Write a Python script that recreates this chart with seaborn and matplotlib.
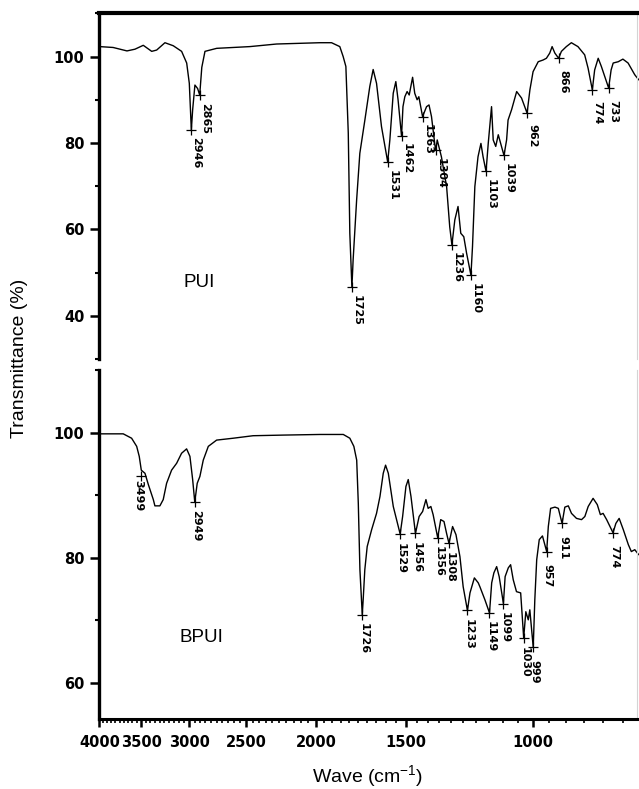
import matplotlib
matplotlib.use("Agg")
import matplotlib.pyplot as plt
import matplotlib.ticker as mticker
import seaborn as sns

# PUI spectrum: wavenumber (cm-1) and transmittance (%)
pui_wave = [4000, 3824, 3651, 3555, 3458, 3362, 3307, 3217, 3129, 3043, 2992, 2966,
            2946, 2933, 2911, 2885, 2865, 2845, 2815, 2707, 2424, 2217, 1919, 1846,
            1796, 1776, 1760, 1746, 1737, 1725, 1718, 1698, 1680, 1652, 1625, 1607,
            1589, 1563, 1531, 1520, 1503, 1490, 1479, 1462, 1455, 1446, 1435, 1425,
            1409, 1399, 1388, 1380, 1370, 1363, 1345, 1334, 1323, 1308, 1304, 1298,
            1280, 1258, 1245, 1236, 1224, 1211, 1200, 1188, 1177, 1160, 1154, 1145,
            1133, 1122, 1114, 1103, 1095, 1083, 1077, 1068, 1059, 1039, 1030, 1025,
            1013, 996, 980, 962, 953, 943, 927, 912, 902, 892, 885, 877, 866, 858,
            844, 830, 812, 794, 785, 774, 768, 759, 751, 733, 727, 722, 710, 699,
            687, 672, 663]
pui_trans = [102.3, 102.1, 101.3, 101.7, 102.6, 101.2, 101.5, 103.2, 102.5, 101.2, 98.5, 93.8,
             83.0, 87.7, 93.4, 92.6, 91.1, 97.5, 101.2, 101.9, 102.3, 102.9, 103.2, 103.2,
             102.3, 100.0, 97.7, 82.3, 59.1, 46.6, 52.9, 66.8, 77.6, 85.3, 93.1, 97.0,
             93.8, 83.8, 75.6, 80.7, 91.5, 94.2, 90.0, 81.6, 88.4, 90.7, 91.9, 91.1,
             95.2, 91.5, 90.0, 90.7, 88.0, 86.1, 88.4, 88.8, 86.1, 79.5, 78.3, 80.7,
             76.8, 69.9, 60.6, 56.4, 62.2, 65.3, 59.1, 58.3, 54.5, 49.4, 56.0, 69.9,
             76.8, 79.9, 76.8, 73.4, 79.9, 88.4, 80.7, 79.2, 81.9, 77.1, 80.7, 85.3,
             87.7, 91.9, 90.4, 86.9, 92.3, 96.5, 98.8, 99.2, 99.6, 100.8, 102.3, 100.8, 99.6, 101.2,
             102.3, 103.2, 102.3, 100.4, 97.3, 92.3, 96.9, 99.6, 97.7, 92.7, 96.9, 98.5, 98.8, 99.4,
             98.5, 95.8, 94.6]
pui_peaks = [2946, 2865, 1725, 1531, 1462, 1363, 1304, 1236, 1160, 1103, 1039, 962, 866, 774, 733]
pui_peak_t = [83.0, 91.1, 46.6, 75.6, 81.6, 86.1, 78.3, 56.4, 49.4, 73.4, 77.1, 86.9, 99.6, 92.3, 92.7]

# BPUI spectrum
bpui_wave = [4000, 3707, 3609, 3551, 3522, 3499, 3458, 3421, 3367, 3350, 3297, 3262,
             3227, 3176, 3125, 3076, 3027, 2995, 2969, 2949, 2926, 2901, 2870, 2824,
             2750, 2608, 2447, 2222, 1976, 1834, 1796, 1773, 1757, 1748, 1739, 1726,
             1721, 1712, 1699, 1675, 1649, 1631, 1614, 1602, 1588, 1563, 1529, 1517,
             1501, 1490, 1477, 1456, 1439, 1423, 1408, 1398, 1386, 1376, 1356, 1343,
             1329, 1318, 1308, 1293, 1279, 1263, 1250, 1233, 1223, 1206, 1191, 1185,
             1166, 1149, 1141, 1133, 1123, 1114, 1099, 1093, 1082, 1074, 1065, 1054,
             1040, 1034, 1030, 1023, 1015, 1010, 999, 994, 988, 980, 970, 957, 952,
             945, 932, 922, 911, 903, 893, 884, 870, 856, 847, 838, 825, 814, 806,
             799, 790, 774, 767, 759, 749, 737, 730, 722, 713]
bpui_trans = [99.8, 99.8, 99.1, 97.8, 96.2, 94.0, 93.5, 91.7, 89.3, 88.3, 88.3, 89.3,
              91.9, 94.0, 95.1, 96.7, 97.4, 96.2, 92.5, 88.9, 91.9, 93.0, 95.6, 97.8,
              98.8, 99.1, 99.5, 99.6, 99.7, 99.7, 99.1, 97.8, 95.6, 88.7, 78.1, 70.9,
              73.3, 78.1, 81.8, 84.5, 87.1, 89.8, 93.5, 94.8, 93.5, 88.2, 83.8, 86.6,
              91.4, 92.5, 89.8, 83.9, 86.6, 87.4, 89.3, 87.9, 88.2, 86.9, 83.2, 86.1,
              85.8, 83.9, 82.3, 85.0, 83.7, 80.2, 75.4, 71.6, 74.4, 76.8, 76.0, 75.4,
              73.3, 71.2, 76.0, 77.6, 78.6, 77.0, 72.7, 77.0, 78.4, 78.9, 76.5, 74.6,
              74.4, 70.1, 67.2, 71.4, 70.1, 71.7, 65.7, 73.3, 79.7, 82.9, 83.5, 81.0, 85.0,
              87.9, 88.1, 87.9, 85.5, 88.1, 88.3, 87.1, 86.3, 86.1, 86.6, 88.2, 89.5, 88.5, 86.9,
              87.1, 86.1, 84.0, 85.5, 86.3, 84.5, 82.1, 81.0, 81.3, 80.5]
bpui_peaks = [3499, 2949, 1726, 1529, 1456, 1356, 1308, 1233, 1149, 1099, 1030, 999, 957, 911, 774]
bpui_peak_t = [93.0, 88.9, 70.9, 83.8, 83.9, 83.2, 82.3, 71.6, 71.2, 72.7, 67.2, 65.7, 81.0, 85.5, 84.0]

x_ticks = [4000, 3500, 3000, 2500, 2000, 1500, 1000]

sns.set_style("ticks")
plt.rcParams["font.family"] = ["DejaVu Sans"]
plt.rcParams["mathtext.default"] = "regular"
plt.rcParams.update({"axes.edgecolor": "black", "xtick.color": "black",
                     "ytick.color": "black", "text.color": "black",
                     "axes.labelcolor": "black"})

fig = plt.figure(figsize=(6.39, 7.89), dpi=100)
ax_top = fig.add_axes([0.1549, 0.5450, 0.8419, 0.4381])
ax_bot = fig.add_axes([0.1549, 0.0890, 0.8419, 0.4421])


def draw_panel(ax, wave, trans, peaks, peak_t, xlim, ylim, name, name_pos, offset, special=None):
    sns.lineplot(x=wave, y=trans, ax=ax, color="black", linewidth=1.0,
                 sort=False, estimator=None)
    ax.lines[-1].set_clip_on(False)
    sns.scatterplot(x=peaks, y=peak_t, ax=ax, marker="+", s=45, color="black",
                    linewidth=0.9, zorder=3)
    special = special or {}
    for w, t in zip(peaks, peak_t):
        ax.annotate(str(w), xy=(w, t), xytext=special.get(w, offset),
                    textcoords="offset points", rotation=270, ha="center",
                    va="center", fontsize=8, fontweight="bold", color="black")

    ax.set_xscale("log")
    ax.set_xlim(*xlim)
    ax.set_ylim(*ylim)
    ax.yaxis.set_major_locator(mticker.MultipleLocator(20))
    ax.yaxis.set_minor_locator(mticker.MultipleLocator(10))
    ax.tick_params(axis="y", which="major", direction="out", length=6.5, width=1.8,
                   labelsize=10.5, pad=4, colors="black")
    ax.tick_params(axis="y", which="minor", direction="out", length=3, width=1.5,
                   colors="black")
    for lab in ax.get_yticklabels():
        lab.set_fontweight("bold")

    for side in ["left", "top", "bottom"]:
        ax.spines[side].set_color("black")
    ax.spines["left"].set_linewidth(2.4)
    ax.spines["right"].set_color("#d4d4d4")
    ax.spines["right"].set_linewidth(0.8)
    ax.text(name_pos[0], name_pos[1], name, transform=ax.transAxes, ha="center",
            va="center", fontsize=13.5, family=["Liberation Sans", "DejaVu Sans"])
    ax.set_xlabel("")
    ax.set_ylabel("")


draw_panel(ax_top, pui_wave, pui_trans, pui_peaks, pui_peak_t, (4008, 667), (30, 110),
           "PUI", (0.186, 0.22), (3.6, -16.6))
draw_panel(ax_bot, bpui_wave, bpui_trans, bpui_peaks, bpui_peak_t, (4006, 717), (54.3, 110),
           "BPUI", (0.191, 0.233), (0.7, -17.3), special={3499: (-2.0, -14.0)})

# top panel: thick frame line on top, no x axis
ax_top.spines["bottom"].set_visible(False)
ax_top.spines["top"].set_linewidth(3)
ax_top.tick_params(axis="x", which="both", bottom=False, top=False, labelbottom=False)

# bottom panel: wavenumber axis
ax_bot.spines["top"].set_visible(False)
ax_bot.spines["bottom"].set_linewidth(2.2)
ax_bot.xaxis.set_major_locator(mticker.FixedLocator(x_ticks))
ax_bot.xaxis.set_major_formatter(mticker.FixedFormatter([str(v) for v in x_ticks]))
ax_bot.xaxis.set_minor_locator(mticker.MultipleLocator(50))
ax_bot.xaxis.set_minor_formatter(mticker.NullFormatter())
ax_bot.tick_params(axis="x", which="major", direction="out", length=6, width=1.8,
                   labelsize=10.5, pad=6, colors="black")
ax_bot.tick_params(axis="x", which="minor", direction="out", length=3, width=1.2,
                   colors="black")
for lab in ax_bot.get_xticklabels():
    lab.set_fontweight("bold")

fig.text(20 / 639, 1 - 358 / 789, "Transmittance (%)", rotation=90, ha="center",
         va="center", fontsize=14, family=["Liberation Sans", "DejaVu Sans"])
fig.text(368 / 639, 1 - 776 / 789, "Wave (cm$^{-1}$)", ha="center", va="center",
         fontsize=14, family=["Liberation Sans", "DejaVu Sans"])

fig.savefig("out.png", dpi=100)
